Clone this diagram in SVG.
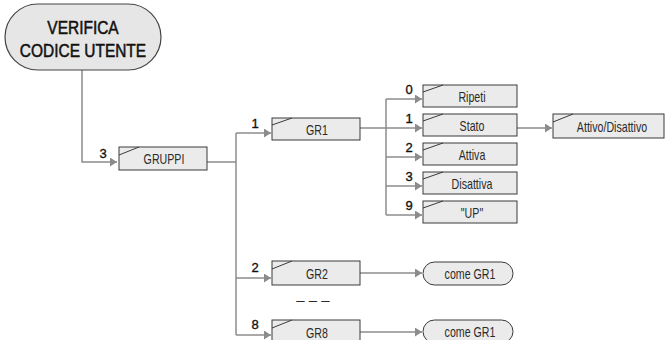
<svg xmlns="http://www.w3.org/2000/svg" width="668" height="340" viewBox="0 0 668 340">
<style>
.box{fill:#ebebeb;stroke:#3a3a3a;stroke-width:1}
.sw{fill:none;stroke:#3a3a3a;stroke-width:1}
.pill{fill:#ebebeb;stroke:#3a3a3a;stroke-width:1}
.top{fill:#e6e6e6;stroke:#444;stroke-width:1.2}
.con{fill:none;stroke:#8c8c8c;stroke-width:1.5}
.lbl{font-family:"Liberation Sans",Arial,sans-serif;font-size:14px;fill:#2a2a2a;text-anchor:middle}
.num{font-family:"Liberation Sans",Arial,sans-serif;font-size:13px;fill:#111;stroke:#111;stroke-width:0.35;text-anchor:middle}
.ttl{font-family:"Liberation Sans",Arial,sans-serif;font-size:18px;fill:#111;stroke:#111;stroke-width:0.5;text-anchor:middle}
</style>
<defs>
<marker id="arr" markerUnits="userSpaceOnUse" markerWidth="8" markerHeight="9" refX="7" refY="4.5" orient="auto">
<path d="M0,0 L7,4.5 L0,9 z" fill="#8c8c8c"/>
</marker>
</defs>
<rect width="668" height="340" fill="#ffffff"/>

<g id="connectors">
<polyline class="con" points="82,70 82,162 117,162" marker-end="url(#arr)"/>
<polyline class="con" points="207,162 236,162"/>
<line class="con" x1="236" y1="133" x2="236" y2="335"/>
<polyline class="con" points="236,133 271,133" marker-end="url(#arr)"/>
<polyline class="con" points="236,278 271,278" marker-end="url(#arr)"/>
<polyline class="con" points="236,335 271,335" marker-end="url(#arr)"/>
<polyline class="con" points="360,128 422,128" marker-end="url(#arr)"/>
<line class="con" x1="386" y1="99" x2="386" y2="215"/>
<polyline class="con" points="386,99 422,99" marker-end="url(#arr)"/>
<polyline class="con" points="386,157 422,157" marker-end="url(#arr)"/>
<polyline class="con" points="386,186 422,186" marker-end="url(#arr)"/>
<polyline class="con" points="386,215 422,215" marker-end="url(#arr)"/>
<polyline class="con" points="517,128 552,128" marker-end="url(#arr)"/>
<polyline class="con" points="360,273 422,273" marker-end="url(#arr)"/>
<polyline class="con" points="360,332 422,332" marker-end="url(#arr)"/>
<text class="num" x="103" y="158">3</text>
<text class="num" x="255" y="128">1</text>
<text class="num" x="255" y="272">2</text>
<text class="num" x="255" y="329">8</text>
<text class="num" x="409" y="94">0</text>
<text class="num" x="409" y="123">1</text>
<text class="num" x="409" y="152">2</text>
<text class="num" x="409" y="181">3</text>
<text class="num" x="409" y="210">9</text>
</g>

<g id="verifica">
<rect class="top" x="5" y="4" width="156" height="66" rx="33" ry="33"/>
<text class="ttl" transform="translate(83,34) scale(0.86,1)">VERIFICA</text>
<text class="ttl" transform="translate(83,57) scale(0.86,1)">CODICE UTENTE</text>
</g>

<g id="gruppi">
<rect class="box" x="119" y="147" width="88" height="23"/>
<line class="sw" x1="119" y1="155" x2="139" y2="147"/>
<text class="lbl" transform="translate(164,164) scale(0.76,1)">GRUPPI</text>
</g>

<g id="gr1">
<rect class="box" x="272" y="118" width="88" height="22"/>
<line class="sw" x1="272" y1="125" x2="292" y2="118"/>
<text class="lbl" transform="translate(317,135) scale(0.76,1)">GR1</text>
</g>

<g id="ripeti">
<rect class="box" x="423" y="85" width="94" height="22"/>
<line class="sw" x1="423" y1="92" x2="443" y2="85"/>
<text class="lbl" transform="translate(472,101.5) scale(0.76,1)">Ripeti</text>
</g>
<g id="stato">
<rect class="box" x="423" y="114" width="94" height="22"/>
<line class="sw" x1="423" y1="121" x2="443" y2="114"/>
<text class="lbl" transform="translate(472,130.5) scale(0.76,1)">Stato</text>
</g>
<g id="attiva">
<rect class="box" x="423" y="143" width="94" height="22"/>
<line class="sw" x1="423" y1="150" x2="443" y2="143"/>
<text class="lbl" transform="translate(472,159.5) scale(0.76,1)">Attiva</text>
</g>
<g id="disattiva">
<rect class="box" x="423" y="172" width="94" height="22"/>
<line class="sw" x1="423" y1="179" x2="443" y2="172"/>
<text class="lbl" transform="translate(472,188.5) scale(0.76,1)">Disattiva</text>
</g>
<g id="up">
<rect class="box" x="423" y="201" width="94" height="22"/>
<line class="sw" x1="423" y1="208" x2="443" y2="201"/>
<text class="lbl" transform="translate(472,217.5) scale(0.76,1)">"UP"</text>
</g>

<g id="attivo-disattivo">
<rect class="box" x="553" y="114" width="111" height="24"/>
<line class="sw" x1="553" y1="122" x2="573" y2="114"/>
<text class="lbl" transform="translate(612,131.5) scale(0.76,1)">Attivo/Disattivo</text>
</g>

<g id="gr2">
<rect class="box" x="272" y="261" width="88" height="24"/>
<line class="sw" x1="272" y1="269" x2="292" y2="261"/>
<text class="lbl" transform="translate(317,278.5) scale(0.76,1)">GR2</text>
</g>
<g id="come-gr1-a">
<rect class="pill" x="423" y="262" width="90" height="23" rx="11.5" ry="11.5"/>
<text class="lbl" transform="translate(470,278.5) scale(0.76,1)">come GR1</text>
</g>

<g id="dots">
<text class="lbl" x="313" y="305" style="font-size:15px">– – –</text>
</g>

<g id="gr8">
<rect class="box" x="272" y="320" width="88" height="24"/>
<line class="sw" x1="272" y1="328" x2="292" y2="320"/>
<text class="lbl" transform="translate(317,337.5) scale(0.76,1)">GR8</text>
</g>
<g id="come-gr1-b">
<rect class="pill" x="423" y="320" width="90" height="23" rx="11.5" ry="11.5"/>
<text class="lbl" transform="translate(470,336.5) scale(0.76,1)">come GR1</text>
</g>
</svg>
